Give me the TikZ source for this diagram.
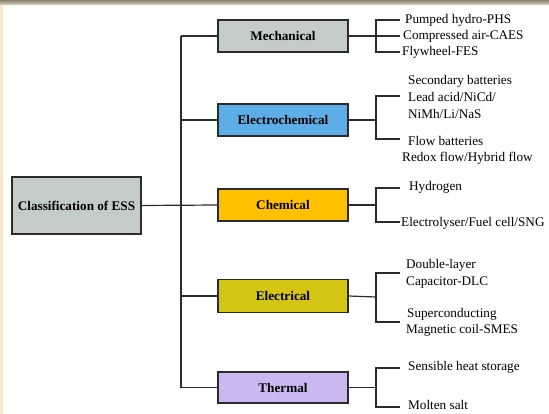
\documentclass[tikz,border=0pt]{standalone}
\usepackage{fontspec}
\setmainfont{Liberation Serif}
\definecolor{boxgray}{HTML}{C3CBCB}
\definecolor{boxblue}{HTML}{5DADE6}
\definecolor{boxorange}{HTML}{FFC000}
\definecolor{boxolive}{HTML}{D4C414}
\definecolor{boxlav}{HTML}{CBB8F0}
\definecolor{edgedark}{HTML}{2B2B2B}
\definecolor{peach}{HTML}{FDE5C8}
\definecolor{bartop}{HTML}{8C806C}
\definecolor{barbot}{HTML}{DCD3C4}
\begin{document}
\begin{tikzpicture}[x=1pt,y=-1pt,
  catbox/.style={draw=edgedark,line width=1.3pt,minimum width=130pt,minimum height=32pt,inner sep=0pt,
    font=\fontsize{13.2}{16}\selectfont\bfseries},
  leaf/.style={anchor=west,inner sep=0pt,text height=9.3pt,text depth=1.5pt,
    font=\fontsize{13.2}{16}\selectfont},
  conn/.style={draw=edgedark,line width=1.2pt}]
\useasboundingbox (0,0) rectangle (549,414);
\fill[white] (0,0) rectangle (549,414);
\fill[peach] (0,0) rectangle (3,414);
\shade[top color=bartop,bottom color=barbot] (0,0) rectangle (549,5);

% main nodes
\node[catbox,minimum width=129pt,minimum height=57pt,fill=boxgray] (root) at (76.5,205.5) {Classification of ESS};
\node[catbox,fill=boxgray] (mech) at (283,36) {Mechanical};
\node[catbox,fill=boxblue] (echem) at (283,120) {Electrochemical};
\node[catbox,fill=boxorange] (chem) at (283,205) {Chemical};
\node[catbox,fill=boxolive,minimum height=33pt] (elec) at (283,296) {Electrical};
\node[catbox,fill=boxlav,minimum height=31pt] (therm) at (283,387.5) {Thermal};

% trunk
\coordinate (tt) at (181,36);
\coordinate (tb) at (181,387.5);
\draw[conn] (tt) -- (tb);
\draw[conn] (tt) -- (mech.west);
\draw[conn] (181,120) -- (echem.west);
\draw[conn] (root.east) -- (chem.west);
\draw[conn] (181,296) -- (elec.west);
\draw[conn] (tb) -- (therm.west);

% leaves
\node[leaf] (m1) at (405,20) {Pumped hydro-PHS};
\node[leaf] (m2) at (403,36) {Compressed air-CAES};
\node[leaf] (m3) at (402,52) {Flywheel-FES};

\node[leaf] (e1) at (408,81) {Secondary batteries};
\node[leaf] (e2) at (408,98) {Lead acid/NiCd/};
\node[leaf] (e3) at (408,115) {NiMh/Li/NaS};
\node[leaf] (e4) at (408,142) {Flow batteries};
\node[leaf] (e5) at (402,158) {Redox flow/Hybrid flow};

\node[leaf] (c1) at (409,187) {Hydrogen};
\node[leaf] (c2) at (401,223) {Electrolyser/Fuel cell/SNG};

\node[leaf] (l1) at (406,265) {Double-layer};
\node[leaf] (l2) at (406,282) {Capacitor-DLC};
\node[leaf] (l3) at (407,314) {Superconducting};
\node[leaf] (l4) at (406,330) {Magnetic coil-SMES};

\node[leaf] (t1) at (408,367) {Sensible heat storage};
\node[leaf] (t2) at (408,406) {Molten salt};

% brackets
\draw[conn] (mech.east) -- (400,36);
\draw[conn] (400,20) -- (376,20) -- (376,52) -- (400,52);

\draw[conn] (echem.east) -- (376,120);
\draw[conn] (400,96) -- (376,96) -- (376,139) -- (400,139);

\draw[conn] (chem.east) -- (376,205);
\draw[conn] (400,188) -- (376,188) -- (376,222) -- (400,222);

\draw[conn] (elec.east) -- (376,297);
\draw[conn] (400,273) -- (376,273) -- (376,322) -- (400,322);

\draw[conn] (therm.east) -- (376,387.5);
\draw[conn] (400,368) -- (376,368) -- (376,407) -- (400,407);
\end{tikzpicture}
\end{document}
